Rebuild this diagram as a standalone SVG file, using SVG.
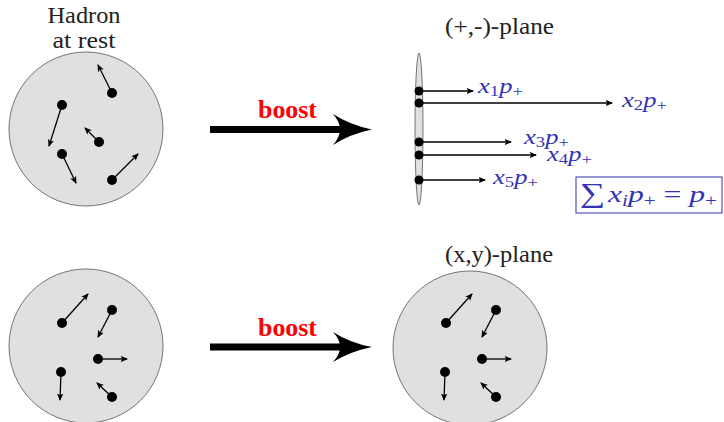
<svg xmlns="http://www.w3.org/2000/svg" width="724" height="422" viewBox="0 0 724 422">
<defs>
<marker id="ah" markerWidth="9" markerHeight="9" refX="6.5" refY="4" orient="auto" markerUnits="userSpaceOnUse">
<path d="M0,0.8 L7.5,4 L0,7.2 L1.8,4 Z" fill="#000"/>
</marker>
<style>
.hadron{fill:#e0e0e0;stroke:#555;stroke-width:0.8}
.dot{fill:#000}
.mv{stroke:#000;stroke-width:1.3;fill:none;marker-end:url(#ah)}
.lbl{font-family:"Liberation Serif",serif;font-size:23px;fill:#222}
.boost{font-family:"Liberation Serif",serif;font-size:25px;font-weight:bold;fill:#ff0000}
.math{font-family:"Liberation Serif",serif;font-style:italic;font-size:20px;fill:#3333b3}
.sub{font-size:14px}
.big{fill:#000}
</style>
</defs>
<rect width="724" height="422" fill="#fff"/>

<g id="hadron-rest">
<text class="lbl" x="84" y="23" text-anchor="middle" textLength="73" lengthAdjust="spacingAndGlyphs">Hadron</text>
<text class="lbl" x="84" y="48" text-anchor="middle" textLength="63" lengthAdjust="spacingAndGlyphs">at rest</text>
<circle class="hadron" cx="86" cy="129" r="77"/>
</g>

<g id="boost-top">
<rect class="big" x="210" y="126" width="130" height="7"/>
<path class="big" d="M333,114 Q350,125 372,129.5 Q350,134 333,145 Q340,137 340,129.5 Q340,122 333,114 Z"/>
<text class="boost" x="258" y="118" textLength="59" lengthAdjust="spacingAndGlyphs">boost</text>
</g>

<g id="plus-minus-plane">
<text class="lbl" x="445" y="34" textLength="109" lengthAdjust="spacingAndGlyphs">(+,-)-plane</text>
<ellipse class="hadron" cx="419" cy="129" rx="4" ry="76"/>
</g>

<g id="sum-box">
<rect x="576" y="177" width="146" height="36" fill="#fff" stroke="#3333b3" stroke-width="1"/>
<text x="580" y="202" font-family="'Liberation Serif',serif" font-size="24" fill="#3333b3" textLength="137" lengthAdjust="spacingAndGlyphs"><tspan font-size="27">∑</tspan><tspan font-style="italic" dx="2">x</tspan><tspan font-style="italic" font-size="16" dy="4">i</tspan><tspan font-style="italic" dy="-4">p</tspan><tspan font-size="16" dy="4">+</tspan><tspan dy="-4"> = </tspan><tspan font-style="italic">p</tspan><tspan font-size="16" dy="4">+</tspan></text>
</g>

<g id="hadron-bottom-left">
<circle class="hadron" cx="86" cy="346" r="77"/>
</g>

<g id="boost-bottom">
<rect class="big" x="210" y="343.5" width="130" height="7"/>
<path class="big" d="M333,332 Q350,343 372,347 Q350,351.5 333,362 Q340,354.5 340,347 Q340,339.5 333,332 Z"/>
<text class="boost" x="258" y="336" textLength="59" lengthAdjust="spacingAndGlyphs">boost</text>
</g>

<g id="xy-plane">
<text class="lbl" x="445" y="262" textLength="108" lengthAdjust="spacingAndGlyphs">(x,y)-plane</text>
<circle class="hadron" cx="470" cy="348" r="77"/>
</g>

<g id="connectors">
<line class="mv" x1="112" y1="93" x2="98" y2="65"/>
<line class="mv" x1="62" y1="105" x2="49" y2="146"/>
<line class="mv" x1="99" y1="142" x2="85" y2="128"/>
<line class="mv" x1="62" y1="154" x2="76" y2="183"/>
<line class="mv" x1="112" y1="180" x2="138" y2="154"/>

<line class="mv" x1="419" y1="91" x2="473" y2="91"/>
<line class="mv" x1="419" y1="103" x2="612" y2="103"/>
<line class="mv" x1="419" y1="142" x2="511" y2="142"/>
<line class="mv" x1="419" y1="155" x2="536" y2="155"/>
<line class="mv" x1="419" y1="180" x2="485" y2="180"/>

<line class="mv" x1="62" y1="323" x2="88" y2="294"/>
<line class="mv" x1="112" y1="310" x2="98" y2="337"/>
<line class="mv" x1="98" y1="359" x2="127" y2="359"/>
<line class="mv" x1="61" y1="372" x2="60" y2="400"/>
<line class="mv" x1="112" y1="397" x2="97" y2="383"/>

<line class="mv" x1="446" y1="323" x2="472" y2="294"/>
<line class="mv" x1="496" y1="310" x2="482" y2="337"/>
<line class="mv" x1="482" y1="359" x2="511" y2="359"/>
<line class="mv" x1="445" y1="372" x2="444" y2="400"/>
<line class="mv" x1="496" y1="397" x2="481" y2="383"/>
</g>

<g id="partons">
<circle class="dot" cx="112" cy="93" r="5"/>
<circle class="dot" cx="62" cy="105" r="5"/>
<circle class="dot" cx="99" cy="142" r="5"/>
<circle class="dot" cx="62" cy="154" r="5"/>
<circle class="dot" cx="112" cy="180" r="5"/>

<circle class="dot" cx="419" cy="91" r="4.5"/>
<circle class="dot" cx="419" cy="103" r="4.5"/>
<circle class="dot" cx="419" cy="142" r="4.5"/>
<circle class="dot" cx="419" cy="155" r="4.5"/>
<circle class="dot" cx="419" cy="180" r="4.5"/>

<circle class="dot" cx="62" cy="323" r="5"/>
<circle class="dot" cx="112" cy="310" r="5"/>
<circle class="dot" cx="98" cy="359" r="5"/>
<circle class="dot" cx="61" cy="372" r="5"/>
<circle class="dot" cx="112" cy="397" r="5"/>

<circle class="dot" cx="446" cy="323" r="5"/>
<circle class="dot" cx="496" cy="310" r="5"/>
<circle class="dot" cx="482" cy="359" r="5"/>
<circle class="dot" cx="445" cy="372" r="5"/>
<circle class="dot" cx="496" cy="397" r="5"/>
</g>

<g id="momentum-labels">
<text class="math" x="478" y="93" textLength="45" lengthAdjust="spacingAndGlyphs">x<tspan class="sub" font-style="normal" dy="3">1</tspan><tspan dy="-3">p</tspan><tspan class="sub" font-style="normal" dy="3">+</tspan></text>
<text class="math" x="622" y="107" textLength="45" lengthAdjust="spacingAndGlyphs">x<tspan class="sub" font-style="normal" dy="3">2</tspan><tspan dy="-3">p</tspan><tspan class="sub" font-style="normal" dy="3">+</tspan></text>
<text class="math" x="524" y="144" textLength="45" lengthAdjust="spacingAndGlyphs">x<tspan class="sub" font-style="normal" dy="3">3</tspan><tspan dy="-3">p</tspan><tspan class="sub" font-style="normal" dy="3">+</tspan></text>
<text class="math" x="547" y="161" textLength="45" lengthAdjust="spacingAndGlyphs">x<tspan class="sub" font-style="normal" dy="3">4</tspan><tspan dy="-3">p</tspan><tspan class="sub" font-style="normal" dy="3">+</tspan></text>
<text class="math" x="493" y="184" textLength="45" lengthAdjust="spacingAndGlyphs">x<tspan class="sub" font-style="normal" dy="3">5</tspan><tspan dy="-3">p</tspan><tspan class="sub" font-style="normal" dy="3">+</tspan></text>
</g>
</svg>
